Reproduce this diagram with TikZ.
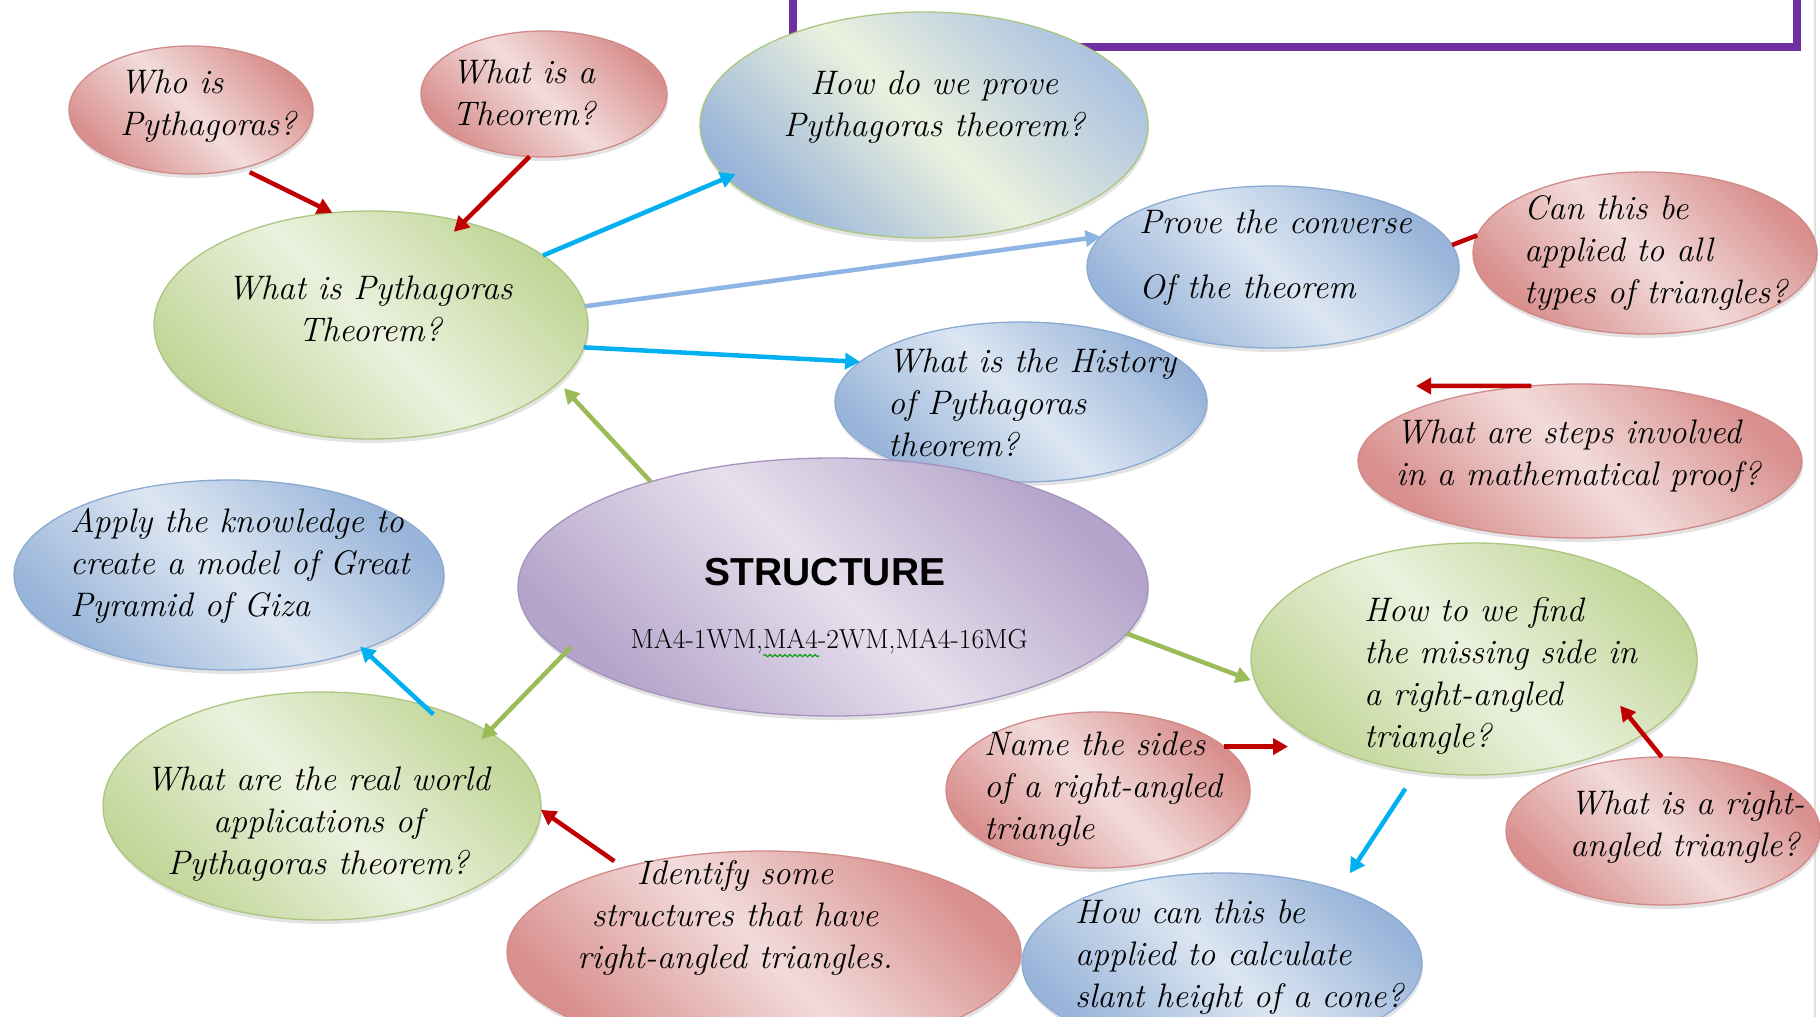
\documentclass[tikz,border=0pt]{standalone}
\usepackage{fontspec}
\newfontfamily\headfont{Liberation Sans}
\usetikzlibrary{shapes.geometric,shadows,arrows.meta,calc,decorations.pathmorphing}

\definecolor{redLight}{HTML}{F2DCDB}
\definecolor{redDark}{HTML}{D88F8D}
\definecolor{redLine}{HTML}{D08A88}
\definecolor{blueLight}{HTML}{DCE6F2}
\definecolor{blueDark}{HTML}{98B4D9}
\definecolor{blueLine}{HTML}{8AAAD2}
\definecolor{greenLight}{HTML}{EBF1DE}
\definecolor{greenDark}{HTML}{C2D699}
\definecolor{greenLine}{HTML}{ABC67F}
\definecolor{purpleLight}{HTML}{E6E0EC}
\definecolor{purpleDark}{HTML}{B4A3CA}
\definecolor{purpleLine}{HTML}{A593BE}
\definecolor{arrRed}{HTML}{C00000}
\definecolor{arrCyan}{HTML}{00B0F0}
\definecolor{arrSky}{HTML}{8DB4E2}
\definecolor{arrGreen}{HTML}{9BBB59}
\definecolor{framePurple}{HTML}{7030A0}

\begin{document}
\begin{tikzpicture}[x=1pt, y=-1pt,
  bubble/.style={ellipse, inner sep=0pt, outer sep=0pt, line width=1.3pt,
    drop shadow={shadow xshift=1pt, shadow yshift=-4pt, opacity=0.22}},
  redbub/.style={bubble, draw=redLine, top color=redDark, bottom color=redDark,
    middle color=redLight, shading angle=-45},
  bluebub/.style={bubble, draw=blueLine, top color=blueDark, bottom color=blueDark,
    middle color=blueLight, shading angle=-45},
  greenbub/.style={bubble, draw=greenLine, top color=greenDark, bottom color=greenDark,
    middle color=greenLight, shading angle=-45},
  mixbub/.style={bubble, draw=greenLine, top color=blueDark!80, bottom color=blueDark,
    middle color=greenLight, shading angle=-45},
  purplebub/.style={bubble, draw=purpleLine, top color=purpleDark, bottom color=purpleDark,
    middle color=purpleLight, shading angle=-45},
  qtext/.style={inner sep=0pt, font=\fontsize{34}{42}\selectfont\itshape},
  qleft/.style={qtext, anchor=west, align=left},
  qmid/.style={qtext, anchor=center, align=center},
  link/.style={line width=4.5pt, -{Triangle[length=15pt,width=16pt]}},
  redarr/.style={link, draw=arrRed, fill=arrRed},
  cyanarr/.style={link, draw=arrCyan, fill=arrCyan},
  skyarr/.style={link, draw=arrSky, fill=arrSky},
  greenarr/.style={link, draw=arrGreen, fill=arrGreen},
  redbar/.style={line width=4.5pt, draw=arrRed}
]
\useasboundingbox (0,0) rectangle (1820,1017);
\clip (0,0) rectangle (1820,1017);
\fill[white] (0,0) rectangle (1820,1017);

% page edge and the purple title frame
\draw[line width=1.5pt, black!12] (1815,0) -- (1815,1017);
\draw[line width=8pt, framePurple] (793,0) -- (793,47) -- (1797,47) -- (1797,0);

% question bubbles
\node[redbub, minimum width=244pt, minimum height=128pt] (who) at (191,110) {};
\node[qleft] (who-t) at (120,106) {Who is\\Pythagoras?};

\node[redbub, minimum width=246pt, minimum height=126pt] (thm) at (544,94) {};
\node[qleft] (thm-t) at (452,93) {What is a\\Theorem?};

\node[mixbub, minimum width=448pt, minimum height=226pt] (prove) at (924,125) {};
\node[qmid] (prove-t) at (934,107) {How do we prove\\Pythagoras theorem?};

\node[greenbub, minimum width=434pt, minimum height=228pt] (wpt) at (371,325) {};
\node[qmid] (wpt-t) at (370,309) {What is Pythagoras\\Theorem?};

\node[bluebub, minimum width=372pt, minimum height=162pt] (conv) at (1273,267) {};
\node[qleft] (conv-t) at (1139,258) {Prove the converse\\[23pt]Of the theorem};

\node[redbub, minimum width=344pt, minimum height=162pt] (can) at (1645,253) {};
\node[qleft] (can-t) at (1524,253) {Can this be\\applied to all\\types of triangles?};

\node[bluebub, minimum width=372pt, minimum height=160pt] (hist) at (1021,402) {};
\node[qleft] (hist-t) at (888,403) {What is the History\\of Pythagoras\\theorem?};

\node[redbub, minimum width=444pt, minimum height=154pt] (steps) at (1580,461) {};
\node[qleft] (steps-t) at (1396,456) {What are steps involved\\in a mathematical proof?};

\node[purplebub, minimum width=630pt, minimum height=258pt] (struct) at (833,587) {};
\node[inner sep=0pt, font=\headfont\bfseries\fontsize{39}{45}\selectfont] (struct-t) at (825,572) {STRUCTURE};
\node[inner sep=0pt, font=\fontsize{27.5}{32}\selectfont] (codes) at (829,641) {MA4-1WM,MA4-2WM,MA4-16MG};
\draw[green!60!black, line width=1pt, decorate,
  decoration={snake, amplitude=1.2pt, segment length=5pt}]
  ($(codes.south west)!0.335!(codes.south east)+(0,2)$) --
  ($(codes.south west)!0.475!(codes.south east)+(0,2)$);

\node[bluebub, minimum width=430pt, minimum height=190pt] (apply) at (229,575) {};
\node[qleft] (apply-t) at (70,566) {Apply the knowledge to\\create a model of Great\\Pyramid of Giza};

\node[greenbub, minimum width=446pt, minimum height=232pt] (find) at (1474,659) {};
\node[qleft] (find-t) at (1364,676) {How to we find\\the missing side in\\a right-angled\\triangle?};

\node[greenbub, minimum width=438pt, minimum height=228pt] (real) at (322,806) {};
\node[qmid] (real-t) at (318,824) {What are the real world\\applications of\\Pythagoras theorem?};

\node[redbub, minimum width=304pt, minimum height=156pt] (name) at (1098,790) {};
\node[qleft] (name-t) at (984,789) {Name the sides\\of a right-angled\\triangle};

\node[redbub, minimum width=314pt, minimum height=148pt] (rat) at (1663,831) {};
\node[qleft] (rat-t) at (1570,827) {What is a right-\\angled triangle?};

\node[redbub, minimum width=514pt, minimum height=202pt] (ident) at (764,952) {};
\node[qmid] (ident-t) at (735,918) {Identify some\\structures that have\\right-angled triangles.};

\node[bluebub, minimum width=400pt, minimum height=180pt] (cone) at (1222,963) {};
\node[qleft] (cone-t) at (1075,957) {How can this be\\applied to calculate\\slant height of a cone?};

\coordinate (stepsTip) at (1416,386);

% connectors
\draw[redarr, shorten <=9pt] (who.-49) -- (wpt.109);
\draw[redarr, shorten >=-14pt] (thm.-103) -- (wpt.48);
\draw[cyanarr, shorten >=-10pt] (wpt.22) -- (prove.195);
\draw[skyarr] (wpt.5) -- (conv.170);
\draw[cyanarr] (wpt.-6) -- (hist.166);
\draw[greenarr, shorten >=8pt] (struct.150) -- (wpt.-17);
\draw[redbar] (can.174) -- (conv.7);
\draw[redarr] (steps.123) -- (stepsTip);
\draw[greenarr, shorten >=5pt] (struct.-9) -- (find.186);
\draw[greenarr, shorten <=-10pt, shorten >=-10pt] (struct.194) -- (real.24);
\draw[cyanarr, shorten <=-14pt, shorten >=-4pt] (real.45) -- (apply.-29);
\draw[redarr, shorten <=11pt] (ident.149) -- (real.-1);
\draw[redarr, shorten >=-37pt] (name.19) -- (name.19 -| find.west);
\draw[redarr, shorten >=-37pt] (rat.91) -- (find.-24);
\draw[cyanarr, shorten <=21pt, shorten >=20pt] (find.243) -- (cone.32);
\end{tikzpicture}
\end{document}
